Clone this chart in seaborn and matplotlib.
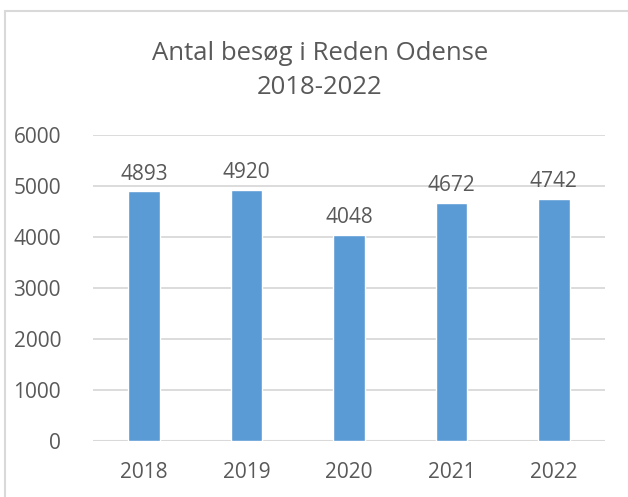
import matplotlib
matplotlib.use("Agg")
import matplotlib.pyplot as plt
from matplotlib.patches import Rectangle
import seaborn as sns
import pandas as pd

# data
years = ["2018", "2019", "2020", "2021", "2022"]
visits = [4893, 4920, 4048, 4672, 4742]
yticks = [0, 1000, 2000, 3000, 4000, 5000, 6000]

TEXT = "#595959"
GRID = "#D9D9D9"
BAR = "#5B9BD5"

sns.set_theme(style="white")
plt.rcParams["font.family"] = ["Open Sans", "DejaVu Sans"]

fig = plt.figure(figsize=(6.28, 4.97), dpi=100)
ax = fig.add_axes([93 / 628, 1 - 441 / 497, 512 / 628, 306 / 497])

df = pd.DataFrame({"year": years, "visits": visits})
sns.barplot(data=df, x="year", y="visits", color=BAR, width=0.31,
            saturation=1, ax=ax)

ax.set_ylim(0, 6000)
ax.set_xlim(-0.5, 4.5)
ax.set_yticks(yticks)
ax.set_yticklabels([str(t) for t in yticks])
ax.yaxis.grid(True, color=GRID, linewidth=1.3)
ax.set_axisbelow(True)
for s in ax.spines.values():
    s.set_visible(False)
ax.axhline(0, color=GRID, linewidth=1.5, zorder=0)
ax.tick_params(axis="both", length=0, colors=TEXT, labelsize=15)
ax.tick_params(axis="x", pad=15)
ax.tick_params(axis="y", pad=23)
ax.set_xlabel("")
ax.set_ylabel("")

ax.bar_label(ax.containers[0], fmt="%d", padding=5, color=TEXT, fontsize=15)

fig.text(320 / 628, 1 - 53 / 497, "Antal besøg i Reden Odense", ha="center",
         va="center", fontsize=18.5, color=TEXT)
fig.text(320 / 628, 1 - 87 / 497, "2018-2022", ha="center", va="center",
         fontsize=18.5, color=TEXT)

# chart border (cropped on right and bottom)
fig.patches.append(Rectangle((5 / 628, -0.1), 1.2, 1 - 11 / 497 + 0.1,
                             transform=fig.transFigure, fill=False,
                             edgecolor=GRID, linewidth=1.5))

fig.savefig("out.png", dpi=100)
